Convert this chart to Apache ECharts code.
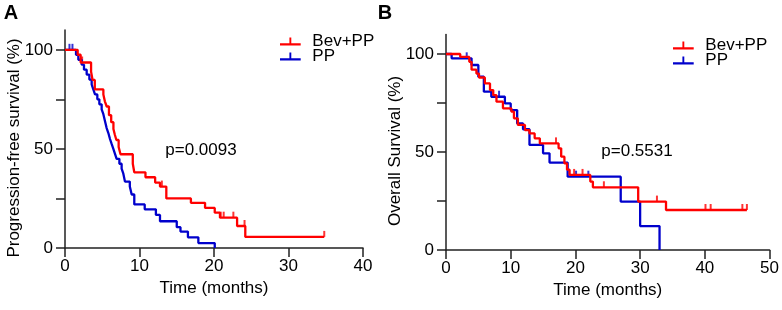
<!DOCTYPE html>
<html>
<head>
<meta charset="utf-8">
<script src="https://cdn.jsdelivr.net/npm/echarts@6/dist/echarts.min.js"></script>
<style>
  html, body { margin: 0; padding: 0; background: #fff; }
  #chart { width: 782px; height: 310px; }
</style>
</head>
<body>
<div id="chart"></div>
<script>
// Panel A - progression-free survival, step points (months, %)
const pfsBevTime = [0, 1.7, 2.1, 3.5, 3.7, 4.0, 5.15, 5.35, 5.6, 5.9, 6.2, 6.5, 6.7, 6.9, 7.2, 7.45, 9.1, 9.3, 10.8, 12.1, 12.75, 13.6, 16.9, 18.8, 20.1, 20.8, 23.1, 24.2, 34.8];
const pfsBevSurv = [100, 97.5, 93.6, 89, 84.8, 80, 77.5, 74, 71.4, 67, 63.5, 60, 57, 54.5, 51, 47.3, 42.5, 38.2, 35.7, 33, 31, 25, 22.8, 20.2, 17.8, 15.3, 11.1, 5.6, 5.6];
const pfsBevCensT = [2.3, 13.0, 20.9, 21.3, 22.6, 24.1, 34.8];
const pfsBevCensS = [93.6, 31, 15.3, 15.3, 15.3, 11.1, 5.6];

const pfsPPTime = [0, 1.48, 1.79, 2.24, 2.55, 2.91, 3.27, 3.58, 3.8, 4.03, 4.34, 4.61, 4.92, 5.15, 5.37, 5.59, 5.82, 6.04, 6.26, 6.49, 6.71, 6.93, 7.3, 7.6, 7.83, 8.05, 8.7, 8.95, 9.3, 10.7, 12.2, 12.75, 15.0, 15.5, 16.5, 17.9, 20.1];
const pfsPPSurv = [100, 97.5, 95, 92.5, 90, 87.5, 85, 82.5, 80, 77.5, 75, 72.5, 70, 67.5, 64, 60.5, 58, 55, 52.5, 50, 47.5, 45, 42.5, 40, 37.5, 33.5, 31, 27, 22, 19.5, 16.7, 13.5, 10.5, 8.3, 5.4, 2.5, 0];
const pfsPPCensT = [0.6, 1.0];
const pfsPPCensS = [100, 100];

// Panel B - overall survival
const osBevTime = [0, 2.2, 3.6, 3.95, 4.7, 5.1, 6.0, 6.8, 7.3, 7.8, 8.8, 10.1, 10.5, 11.1, 12.2, 12.9, 13.7, 14.5, 17.4, 17.8, 18.3, 18.7, 19.1, 22.3, 22.7, 29.7, 34.0, 46.5];
const osBevSurv = [100, 98.5, 96, 92, 90, 88, 85, 81.6, 79, 75.7, 72.3, 70.6, 67.2, 63.8, 61.2, 59.5, 57, 54.4, 51.9, 47.6, 44.2, 41, 38.3, 34.9, 32, 24.7, 20.4, 20.4];
const osBevCensT = [17.0, 19.8, 21.1, 24.4, 32.6, 40.1, 40.9, 45.8, 46.5];
const osBevCensS = [54.4, 38.3, 38.3, 32, 24.7, 20.4, 20.4, 20.4, 20.4];

const osPPTime = [0, 0.87, 3.95, 5.0, 5.85, 7.0, 9.1, 10.0, 11.0, 11.9, 12.9, 15.0, 16.0, 18.8, 27.0, 30.0, 33.0];
const osPPSurv = [100, 97.8, 94.4, 88.4, 80.8, 78.2, 74.8, 71.4, 64.6, 61.6, 53.6, 49.3, 44.6, 37.4, 24.7, 12.2, 0];
const osPPCensT = [3.2, 8.2, 20.1, 22.0];
const osPPCensS = [97.8, 78.2, 37.4, 37.4];

const yTicks = [0, 25, 50, 75, 100];
const yLabels = [0, 50, 100];

const RED = '#ff0000';
const BLUE = '#0000cc';
const FONT = 'Liberation Sans, Arial, sans-serif';
const legendIcon = 'path://M0,6H22V8.5H0Z M10,0H12V6H10Z';

const pairs = (t, s) => t.map((v, i) => [v, s[i]]);

function xAxisFor(grid, max) {
  return {
    type: 'value', gridIndex: grid, min: 0, max: max, interval: 10,
    name: 'Time (months)', nameLocation: 'middle', nameGap: 29,
    nameTextStyle: { fontSize: 17, color: '#000', fontFamily: FONT },
    axisLine: { onZero: false, lineStyle: { color: '#222', width: 1.5 } },
    axisTick: { length: 9, lineStyle: { color: '#222', width: 1.5 } },
    axisLabel: { fontSize: 17, color: '#000', fontFamily: FONT, margin: 10 },
    splitLine: { show: false }
  };
}

function yAxisFor(grid) {
  return {
    type: 'value', gridIndex: grid, min: 0, max: 110,
    axisLine: { show: true, lineStyle: { color: '#222', width: 1.5 } },
    axisTick: { show: true, length: 9, customValues: yTicks, lineStyle: { color: '#222', width: 1.5 } },
    axisLabel: { fontSize: 17, color: '#000', fontFamily: FONT, margin: 12, customValues: yLabels },
    splitLine: { show: false }
  };
}

function curve(name, grid, color, t, s) {
  return {
    name: name, type: 'line', step: 'end', xAxisIndex: grid, yAxisIndex: grid,
    data: pairs(t, s), showSymbol: false, symbol: 'none', silent: true,
    color: color, lineStyle: { color: color, width: 2.3 }
  };
}

function censor(grid, color, t, s) {
  return {
    name: 'censored', type: 'scatter', xAxisIndex: grid, yAxisIndex: grid,
    data: pairs(t, s), symbol: 'rect', symbolSize: [2, 6], symbolOffset: [0, -3],
    itemStyle: { color: color }, silent: true
  };
}

function legendAt(left, top) {
  return {
    data: ['Bev+PP', 'PP'], orient: 'vertical', left: left, top: top,
    icon: legendIcon, itemWidth: 22, itemHeight: 8, itemGap: -2,
    textStyle: { fontSize: 17, color: '#000', fontFamily: FONT, padding: [0, 0, 0, 6] },
    selectedMode: false
  };
}

function text(x, y, str, extra) {
  return Object.assign({
    type: 'text', x: x, y: y,
    style: { text: str, fontSize: 17, fill: '#000', fontFamily: FONT, align: 'center', verticalAlign: 'middle' }
  }, extra || {});
}

const chart = echarts.init(document.getElementById('chart'), null, { renderer: 'canvas' });

chart.setOption({
  animation: false,
  backgroundColor: '#fff',
  grid: [
    { left: 65, top: 30, width: 298, height: 218 },
    { left: 446, top: 34.4, width: 325, height: 215.6 }
  ],
  xAxis: [xAxisFor(0, 40), xAxisFor(1, 50)],
  yAxis: [yAxisFor(0), yAxisFor(1)],
  legend: [legendAt(275, 28), legendAt(668, 32)],
  series: [
    curve('PP', 0, BLUE, pfsPPTime, pfsPPSurv),
    censor(0, BLUE, pfsPPCensT, pfsPPCensS),
    curve('Bev+PP', 0, RED, pfsBevTime, pfsBevSurv),
    censor(0, RED, pfsBevCensT, pfsBevCensS),
    curve('PP', 1, BLUE, osPPTime, osPPSurv),
    censor(1, BLUE, osPPCensT, osPPCensS),
    curve('Bev+PP', 1, RED, osBevTime, osBevSurv),
    censor(1, RED, osBevCensT, osBevCensS)
  ],
  graphic: [
    text(11, 13, 'A', { style: { text: 'A', fontSize: 20, fontWeight: 'bold', fill: '#000', fontFamily: FONT, align: 'center', verticalAlign: 'middle' } }),
    text(385, 13, 'B', { style: { text: 'B', fontSize: 20, fontWeight: 'bold', fill: '#000', fontFamily: FONT, align: 'center', verticalAlign: 'middle' } }),
    text(14, 148, 'Progression-free survival (%)', { rotation: Math.PI / 2 }),
    text(395, 151, 'Overall Survival (%)', { rotation: Math.PI / 2 }),
    text(201, 150, 'p=0.0093'),
    text(637, 151, 'p=0.5531')
  ]
});
</script>
</body>
</html>
